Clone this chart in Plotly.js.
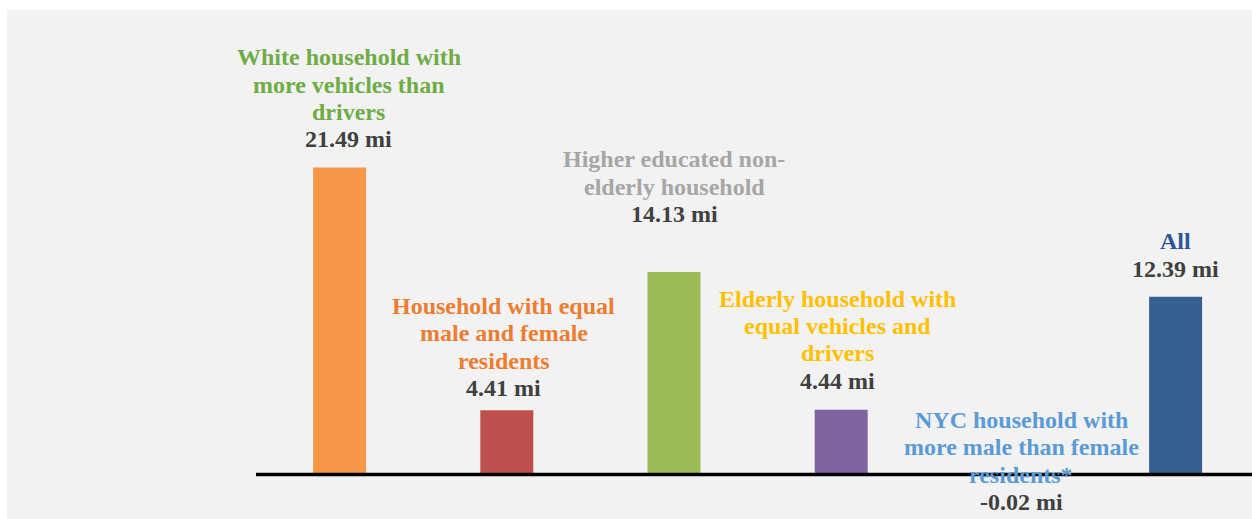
<!DOCTYPE html>
<html>
<head>
<meta charset="utf-8">
<script src="https://cdn.plot.ly/plotly-3.0.1.min.js"></script>
<style>
  html, body { margin: 0; padding: 0; background: #f2f2f2; overflow: hidden; }
  #chart { width: 1252px; height: 519px; }
  #leftstrip { position: fixed; left: 0; top: 0; width: 7px; height: 100%; background: #ffffff; }
  #topstrip { position: fixed; left: 0; top: 0; width: 100%; height: 10px; background: #ffffff; }
</style>
</head>
<body>
<div id="chart"></div>
<div id="leftstrip"></div>
<div id="topstrip"></div>
<script>
// ---- Data ----
const categories = [
  "White household with more vehicles than drivers",
  "Household with equal male and female residents",
  "Higher educated non-elderly household",
  "Elderly household with equal vehicles and drivers",
  "NYC household with more male than female residents*",
  "All"
];
const categoryLines = [
  ["White household with", "more vehicles than", "drivers"],
  ["Household with equal", "male and female", "residents"],
  ["Higher educated non-", "elderly household"],
  ["Elderly household with", "equal vehicles and", "drivers"],
  ["NYC household with", "more male than female", "residents*"],
  ["All"]
];
const values = [21.49, 4.41, 14.13, 4.44, -0.02, 12.39];
const unit = "mi";

// ---- Styles / layout helpers ----
const barColors = ["#f79646", "#c0504d", "#9bbb59", "#8064a2", "#4f9ad3", "#366092"];
const labelColors = ["#6fac46", "#ed7d31", "#a6a6a6", "#ffc000", "#5b9bd5", "#2f5597"];
const valueColor = "#404040";
const labelGap = [20, 14, 50, 21, -37, 20];   // px between bar end and value-line baseline
const labelShiftX = [9, -3, 0, -3.5, 13, 0];   // px horizontal offset of the label block
const fontFamily = "Liberation Serif";
const fontSize = 24;
const lineStep = 27.4;
const baselineToMiddle = 8;
const bg = "#f2f2f2";

const xIdx = categories.map((_, i) => i);

const annotations = [];
categories.forEach((c, i) => {
  const lines = categoryLines[i];
  const base = labelGap[i] + baselineToMiddle;
  annotations.push({
    x: xIdx[i], y: values[i], xref: "x", yref: "y",
    text: "<b>" + values[i].toFixed(2) + " " + unit + "</b>",
    showarrow: false, xanchor: "center", yanchor: "middle",
    xshift: labelShiftX[i], yshift: base,
    font: {family: fontFamily, size: fontSize, color: valueColor}
  });
  for (let k = 0; k < lines.length; k++) {
    const line = lines[lines.length - 1 - k];
    annotations.push({
      x: xIdx[i], y: values[i], xref: "x", yref: "y",
      text: "<b>" + line + "</b>",
      showarrow: false, xanchor: "center", yanchor: "middle",
      xshift: labelShiftX[i], yshift: base + (k + 1) * lineStep,
      font: {family: fontFamily, size: fontSize, color: labelColors[i]}
    });
  }
});

const trace = {
  type: "bar",
  x: xIdx,
  y: values,
  width: 0.317,
  marker: {color: barColors, line: {width: 0}},
  hoverinfo: "skip",
  cliponaxis: false
};

const layout = {
  width: 1252,
  height: 519,
  margin: {l: 256, r: 0, t: 10, b: 0, pad: 0},
  paper_bgcolor: bg,
  plot_bgcolor: bg,
  showlegend: false,
  font: {family: fontFamily},
  xaxis: {
    range: [-0.5, 5.457],
    showticklabels: false, showgrid: false, zeroline: false, showline: false, ticks: ""
  },
  yaxis: {
    range: [-3.235, 32.56],
    showticklabels: false, showgrid: false, zeroline: false, showline: false, ticks: ""
  },
  shapes: [
    {type: "line", xref: "paper", yref: "y", x0: 0, x1: 1, y0: -0.1, y1: -0.1,
     line: {color: "#000000", width: 3.5}, layer: "above"}
  ],
  annotations: annotations
};

Plotly.newPlot("chart", [trace], layout, {displayModeBar: false, staticPlot: true});
</script>
</body>
</html>
